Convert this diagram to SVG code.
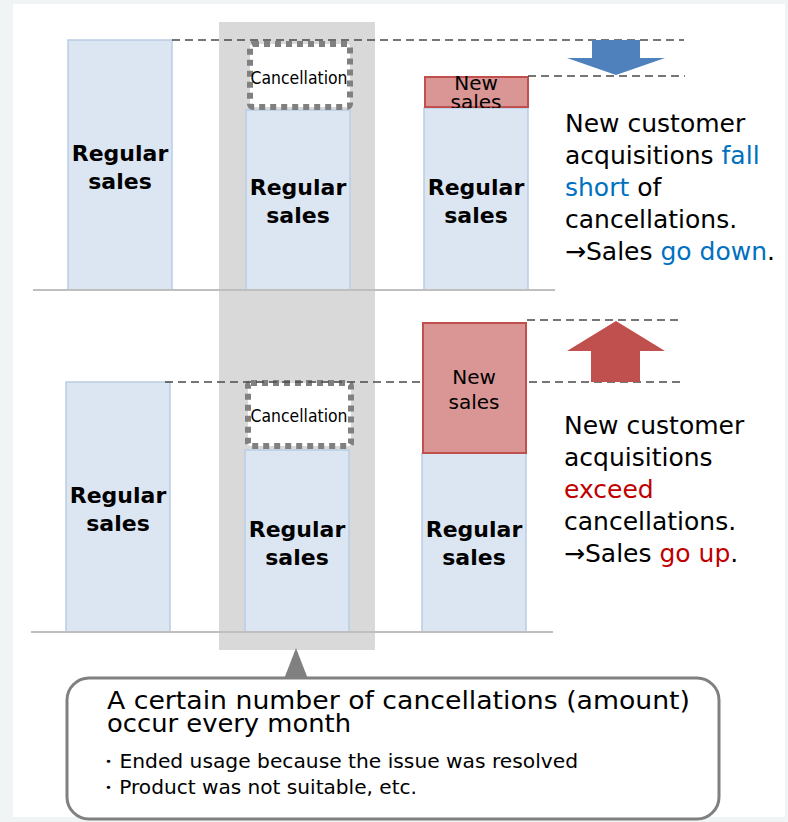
<svg xmlns="http://www.w3.org/2000/svg" width="788" height="822" viewBox="0 0 788 822">
<defs>
<style>
.bar{fill:#dce6f2;stroke:#b9cde5;stroke-width:1.5}
.newb{fill:#da9694;stroke:#c0504d;stroke-width:2}
.canc{fill:#fff;stroke:#808080;stroke-width:6;stroke-dasharray:6 5}
.base{stroke:#bfbfbf;stroke-width:2;fill:none}
.dash{stroke:#4a4a4a;stroke-width:1.6;stroke-dasharray:8 5;fill:none}
.lbl{font-family:"DejaVu Sans",Verdana,sans-serif;font-weight:bold;font-size:22px;fill:#000;text-anchor:middle}
.cl{font-family:"DejaVu Sans Condensed","DejaVu Sans",sans-serif;font-size:17px;fill:#000;text-anchor:middle}
.ns{font-family:"DejaVu Sans",sans-serif;font-size:19px;fill:#000;text-anchor:middle}
.rt{font-family:"DejaVu Sans",sans-serif;font-size:25px;fill:#000}
.blue{fill:#0070c0}
.red{fill:#c00000}
.ct{font-family:"DejaVu Sans Condensed","DejaVu Sans",sans-serif;fill:#000}
</style>
</defs>
<rect x="0" y="0" width="788" height="822" fill="#f0f4f5"/>
<rect x="13" y="4" width="772" height="813" fill="#fff"/>
<rect id="highlight" x="219" y="22" width="156" height="628" fill="#d9d9d9"/>

<g id="top-bar1">
<rect class="bar" x="68" y="40" width="104" height="250"/>
<text class="lbl" x="120" y="161">Regular</text>
<text class="lbl" x="120" y="189">sales</text>
</g>
<g id="top-bar2">
<rect class="bar" x="246" y="110" width="104" height="180"/>
<text class="lbl" x="298" y="195">Regular</text>
<text class="lbl" x="298" y="223">sales</text>
</g>
<g id="top-cancel">
<rect class="canc" x="250" y="44" width="100" height="63" rx="3"/>
<text class="cl" x="299" y="84" textLength="97" lengthAdjust="spacingAndGlyphs">Cancellation</text>
</g>
<g id="top-bar3">
<rect class="bar" x="424" y="108" width="104" height="182"/>
<text class="lbl" x="476" y="195">Regular</text>
<text class="lbl" x="476" y="223">sales</text>
</g>
<g id="top-new">
<svg x="424" y="76" width="105" height="32" overflow="hidden">
<rect class="newb" x="1" y="1" width="103" height="30"/>
<text class="ns" x="52" y="14" style="font-size:20px">New</text>
<text class="ns" x="52" y="33" style="font-size:20px">sales</text>
</svg>
</g>

<g id="bot-bar1">
<rect class="bar" x="66" y="382" width="104" height="250"/>
<text class="lbl" x="118" y="503">Regular</text>
<text class="lbl" x="118" y="531">sales</text>
</g>
<g id="bot-bar2">
<rect class="bar" x="245" y="450" width="104" height="182"/>
<text class="lbl" x="297" y="537">Regular</text>
<text class="lbl" x="297" y="565">sales</text>
</g>
<g id="bot-cancel">
<rect class="canc" x="248" y="383" width="103" height="63" rx="3"/>
<text class="cl" x="299" y="422" textLength="97" lengthAdjust="spacingAndGlyphs">Cancellation</text>
</g>
<g id="bot-bar3">
<rect class="bar" x="422" y="453" width="104" height="179"/>
<text class="lbl" x="474" y="537">Regular</text>
<text class="lbl" x="474" y="565">sales</text>
</g>

<g id="connectors">
<line class="base" x1="33" y1="290" x2="555" y2="290"/>
<line class="base" x1="31" y1="632" x2="553" y2="632"/>
<line class="dash" x1="172" y1="40" x2="684" y2="40"/>
<line class="dash" x1="528" y1="76" x2="685" y2="76"/>
<line class="dash" x1="165" y1="382" x2="680" y2="382"/>
<line class="dash" x1="527" y1="320" x2="683" y2="320"/>
</g>

<g id="bot-new">
<rect class="newb" x="423" y="323" width="103" height="130"/>
<text class="ns" x="474" y="384" style="font-size:20px">New</text>
<text class="ns" x="474" y="409" style="font-size:20px">sales</text>
</g>

<g id="arrow-down">
<polygon points="592,40 640,40 640,58 665,58 616,75 567,58 592,58" fill="#4f81bd"/>
</g>
<g id="arrow-up">
<polygon points="616,321 665,351 640,351 640,382 591,382 591,351 567,351" fill="#c0504d"/>
</g>

<g id="text-top">
<text class="rt" x="565" y="132">New customer</text>
<text class="rt" x="565" y="164">acquisitions <tspan class="blue">fall</tspan></text>
<text class="rt" x="565" y="196"><tspan class="blue">short</tspan> of</text>
<text class="rt" x="565" y="228">cancellations.</text>
<text class="rt" x="565" y="260">→Sales <tspan class="blue">go down</tspan>.</text>
</g>
<g id="text-bottom">
<text class="rt" x="564" y="434">New customer</text>
<text class="rt" x="564" y="466">acquisitions</text>
<text class="rt red" x="564" y="498">exceed</text>
<text class="rt" x="564" y="530">cancellations.</text>
<text class="rt" x="564" y="562">→Sales <tspan class="red">go up</tspan>.</text>
</g>

<g id="callout">
<polygon points="296,648 308,679 284,679" fill="#808080"/>
<rect x="67" y="678" width="652" height="141" rx="22" fill="#fff" stroke="#808080" stroke-width="3"/>
<text class="ct" x="107" y="709" font-size="24" textLength="583" lengthAdjust="spacingAndGlyphs">A certain number of cancellations (amount)</text>
<text class="ct" x="107" y="732" font-size="24" textLength="244" lengthAdjust="spacingAndGlyphs">occur every month</text>
<text class="ct" x="97" y="768" font-size="19" textLength="481" lengthAdjust="spacingAndGlyphs">・Ended usage because the issue was resolved</text>
<text class="ct" x="97" y="794" font-size="19" textLength="320" lengthAdjust="spacingAndGlyphs">・Product was not suitable, etc.</text>
</g>
</svg>
